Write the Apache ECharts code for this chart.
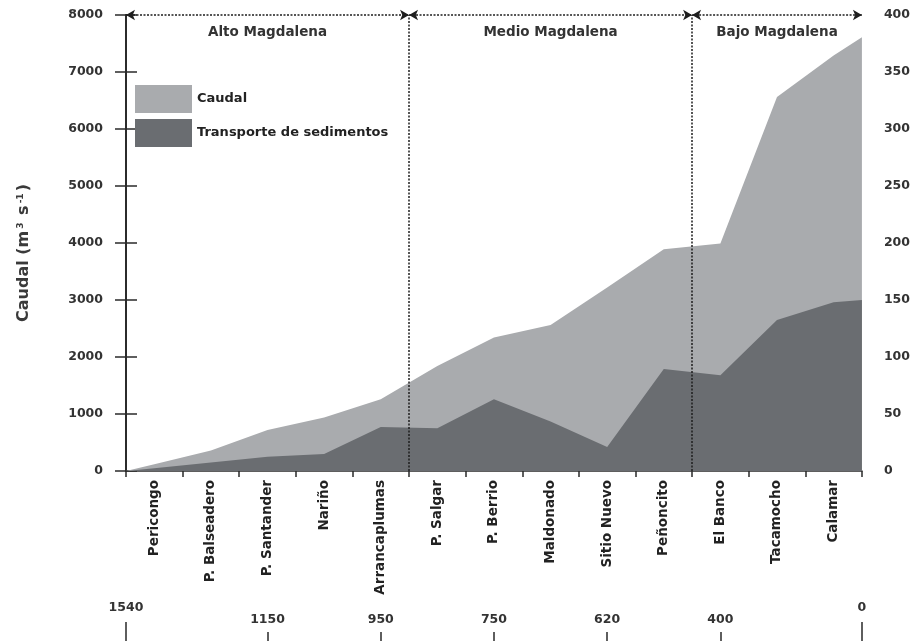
<!DOCTYPE html>
<html>
<head>
<meta charset="utf-8">
<script src="https://cdn.jsdelivr.net/npm/echarts@6/dist/echarts.min.js"></script>
<style>
  html, body { margin: 0; padding: 0; background: #ffffff; }
  #chart { width: 913px; height: 641px; }
</style>
</head>
<body>
<div id="chart"></div>
<script>
// Gauging stations along the Magdalena river, upstream to downstream
const stations = ['Pericongo', 'P. Balseadero', 'P. Santander', 'Nariño', 'Arrancaplumas',
  'P. Salgar', 'P. Berrio', 'Maldonado', 'Sitio Nuevo', 'Peñoncito',
  'El Banco', 'Tacamocho', 'Calamar'];

// Mean discharge at each station (m3 s-1)
const caudal = [120, 360, 720, 940, 1260, 1840, 2340, 2560, 3220, 3890, 3990, 6560, 7290];
// Discharge at the upstream and downstream ends of the profile
const caudalEnds = [0, 7610];

// Sediment transport at each station (right-hand scale)
const transporte = [2.5, 7.5, 12.5, 15, 38.5, 37.5, 63, 43.5, 21, 89.5, 84, 132.5, 148];
const transporteEnds = [0, 150];

// River sections and how many stations each one holds
const regions = ['Alto Magdalena', 'Medio Magdalena', 'Bajo Magdalena'];
const regionStationCount = [5, 5, 3];

// Distance to the river mouth (km) and the station each mark sits under
// (null = the upstream / downstream end of the profile)
const kmLabels = ['1540', '1150', '950', '750', '620', '400', '0'];
const kmStations = [null, 'P. Santander', 'Arrancaplumas', 'P. Berrio', 'Sitio Nuevo', 'El Banco', null];

// Left and right axis ranges
const caudalAxis = { min: 0, max: 8000, interval: 1000 };
const transporteAxis = { min: 0, max: 400, interval: 50 };

// ---- derived values ----
const n = stations.length;
const stationPos = i => i + 0.5;  // station centre on the profile scale
function profile(values, ends) {
  return [[0, ends[0]]]
    .concat(values.map((v, i) => [stationPos(i), v]))
    .concat([[n, ends[1]]]);
}
const kmPos = kmStations.map((s, i) =>
  s === null ? (i === 0 ? 0 : n) : stationPos(stations.indexOf(s)));
const kmEndPos = kmPos.filter((p, i) => kmStations[i] === null);
const kmMidPos = kmPos.filter((p, i) => kmStations[i] !== null);
function kmText(v) {
  const k = kmPos.findIndex(p => Math.abs(p - v) < 1e-6);
  return k >= 0 ? kmLabels[k] : '';
}

const bounds = [0];
regionStationCount.forEach(c => bounds.push(bounds[bounds.length - 1] + c));

const FONT = 'DejaVu Sans';
const INK = '#2a2a2a';
const LIGHT = '#a9abae';
const DARK = '#6a6d71';
const dotted = { color: '#1e1e1e', width: 1.5, type: [2, 1.5] };
const plain = v => String(v);

const markLines = [];
regions.forEach((name, r) => {
  markLines.push([
    { coord: [bounds[r], caudalAxis.max], symbol: 'arrow', name: name,
      label: { show: true, formatter: '{b}', position: 'insideMiddleBottom', distance: 10,
        fontFamily: FONT, fontWeight: 'bold', fontSize: 13.5, color: '#333' } },
    { coord: [bounds[r + 1], caudalAxis.max], symbol: 'arrow' }
  ]);
});
bounds.slice(1, -1).forEach(b => {
  markLines.push([
    { coord: [b, caudalAxis.min], symbol: 'none', label: { show: false } },
    { coord: [b, caudalAxis.max], symbol: 'none' }
  ]);
});

const chart = echarts.init(document.getElementById('chart'), null, { renderer: 'canvas' });

chart.setOption({
  animation: false,
  backgroundColor: '#ffffff',
  textStyle: { fontFamily: FONT, fontWeight: 'bold' },
  grid: { left: 126, right: 47, top: 15, bottom: 170 },
  legend: {
    orient: 'vertical', left: 130, top: 80,
    itemWidth: 57, itemHeight: 28, itemGap: 6, icon: 'rect',
    selectedMode: false,
    data: ['Caudal', 'Transporte de sedimentos'],
    textStyle: { fontFamily: FONT, fontWeight: 'bold', fontSize: 13, color: '#222' }
  },
  xAxis: [
    {
      type: 'category', data: stations, boundaryGap: true, position: 'bottom',
      axisLine: { show: true, lineStyle: { color: INK, width: 1.5 } },
      axisTick: { show: true, length: 6, lineStyle: { color: INK, width: 1.5 } },
      axisLabel: { interval: 0, rotate: 90, margin: 9, fontFamily: FONT,
        fontWeight: 'bold', fontSize: 13.5, color: '#222' },
      splitLine: { show: false }
    },
    { type: 'value', min: 0, max: n, show: false },
    {
      type: 'value', min: 0, max: n, position: 'bottom', offset: 170,
      axisLine: { show: false }, splitLine: { show: false },
      axisTick: { show: true, inside: true, length: 9, customValues: kmMidPos,
        lineStyle: { color: INK, width: 1.5 } },
      axisLabel: { show: true, inside: true, margin: 15, customValues: kmMidPos,
        formatter: kmText, fontFamily: FONT, fontWeight: 'bold', fontSize: 12.5, color: '#333' }
    },
    {
      type: 'value', min: 0, max: n, position: 'bottom', offset: 170,
      axisLine: { show: false }, splitLine: { show: false },
      axisTick: { show: true, inside: true, length: 19, customValues: kmEndPos,
        lineStyle: { color: INK, width: 1.5 } },
      axisLabel: { show: true, inside: true, margin: 27, customValues: kmEndPos,
        showMinLabel: true, showMaxLabel: true,
        formatter: kmText, fontFamily: FONT, fontWeight: 'bold', fontSize: 12.5, color: '#333' }
    }
  ],
  yAxis: [
    {
      type: 'value', position: 'left',
      min: caudalAxis.min, max: caudalAxis.max, interval: caudalAxis.interval,
      name: 'Caudal (m{sup|3} s{sup|-1})', nameLocation: 'middle', nameRotate: 90, nameGap: 94,
      nameTextStyle: {
        fontFamily: FONT, fontWeight: 'bold', fontSize: 16, color: '#3a3a3a',
        padding: [0, 20, 0, 0],
        rich: { sup: { fontFamily: FONT, fontWeight: 'bold', fontSize: 9, color: '#3a3a3a',
          verticalAlign: 'top', padding: [0, 2, 6, 2] } }
      },
      axisLine: { show: true, lineStyle: { color: INK, width: 1.8 } },
      axisTick: { show: true, length: 11, lineStyle: { color: INK, width: 1.5 } },
      axisLabel: { margin: 23, formatter: plain, fontFamily: FONT, fontWeight: 'bold',
        fontSize: 12.5, color: '#333' },
      splitLine: { show: false }
    },
    {
      type: 'value', position: 'right',
      min: transporteAxis.min, max: transporteAxis.max, interval: transporteAxis.interval,
      axisLine: { show: true, lineStyle: { color: INK, width: 1.8 } },
      axisTick: { show: true, length: 11, lineStyle: { color: INK, width: 1.5 } },
      axisLabel: { margin: 22, formatter: plain, fontFamily: FONT, fontWeight: 'bold',
        fontSize: 12.5, color: '#333' },
      splitLine: { show: false }
    }
  ],
  series: [
    {
      name: 'Caudal', type: 'line', xAxisIndex: 1, yAxisIndex: 0,
      data: profile(caudal, caudalEnds),
      symbol: 'none', silent: true,
      color: LIGHT, itemStyle: { color: LIGHT },
      lineStyle: { width: 0, color: LIGHT },
      areaStyle: { color: LIGHT, opacity: 1 },
      z: 2
    },
    {
      name: 'Transporte de sedimentos', type: 'line', xAxisIndex: 1, yAxisIndex: 1,
      data: profile(transporte, transporteEnds),
      symbol: 'none', silent: true,
      color: DARK, itemStyle: { color: DARK },
      lineStyle: { width: 0, color: DARK },
      areaStyle: { color: DARK, opacity: 1 },
      z: 3
    },
    {
      name: 'secciones', type: 'line', xAxisIndex: 1, yAxisIndex: 0,
      data: [], z: 4, silent: true,
      markLine: {
        silent: true, animation: false,
        symbolSize: [8, 9],
        lineStyle: dotted,
        label: { show: false },
        data: markLines
      }
    }
  ]
});
</script>
</body>
</html>
